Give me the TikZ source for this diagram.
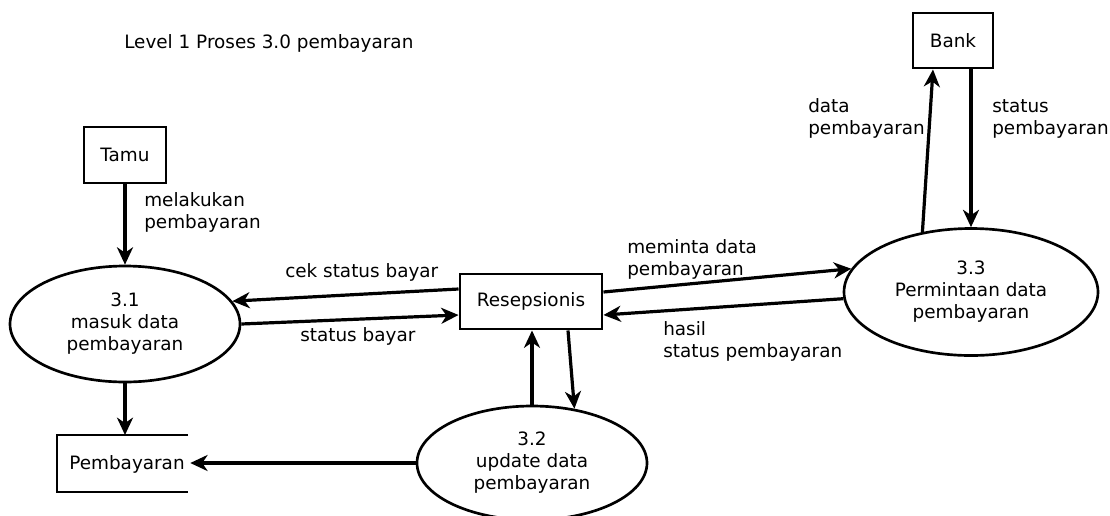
\documentclass[tikz,border=0pt]{standalone}
\usepackage{fontspec}
\setmainfont{DejaVu Sans}
\usetikzlibrary{arrows.meta,calc,shapes.geometric}
\begin{document}
\begin{tikzpicture}[x=0.75pt,y=-0.75pt,
  every node/.style={font=\fontsize{13.8}{16.5}\selectfont},
  entity/.style={draw,line width=2.2pt,rectangle,inner sep=0pt},
  proc/.style={draw,line width=2pt,ellipse,inner sep=0pt,align=center},
  flow/.style={line width=2.4pt,-{Stealth[length=13pt,width=12pt,inset=4pt]}},
  lbl/.style={align=left,anchor=base west,inner sep=0pt},
  storeline/.style={line width=2.2pt}]
\useasboundingbox (0,0) rectangle (1110,515);

% title
\node[lbl] (title) at (124,48) {Level 1 Proses 3.0 pembayaran};

% external entities
\node[entity,minimum width=61.5pt,minimum height=42pt] (tamu) at (125,155) {Tamu};
\node[entity,minimum width=60pt,minimum height=41.25pt] (bank) at (953,40.5) {Bank};
\node[entity,minimum width=106.5pt,minimum height=41.25pt] (resep) at (531,301.5) {Resepsionis};

% processes
\node[proc,minimum width=172.5pt,minimum height=87pt] (p31) at (125,324) {3.1\\masuk data\\pembayaran};
\node[proc,minimum width=172.5pt,minimum height=85.5pt] (p32) at (532,463) {3.2\\update data\\pembayaran};
\node[proc,minimum width=190.5pt,minimum height=95.25pt] (p33) at (971,292) {3.3\\Permintaan data\\pembayaran};

% data store
\node[inner sep=4pt] (store) at (127,464) {Pembayaran};
\draw[storeline] (188,435) -- (57,435) -- (57,492) -- (188,492);
\coordinate (stN) at (125,435);

% flows
\draw[flow] (tamu.south) -- (p31.north);
\draw[flow] (p31.south) -- (stN);
\draw[flow] ($(resep.west)+(0,-12.5)$) -- (p31.12);
\draw[flow] (p31.east) -- ($(resep.west)+(0,13.5)$);
\draw[flow] ($(resep.east)+(0,-9.5)$) -- (p33.169);
\draw[flow] (p33.183) -- ($(resep.east)+(0,13.5)$);
\draw[flow] (p33.129) -- ($(bank.south)+(-20,0)$);
\draw[flow] (bank.south -| p33.north) -- (p33.north);
\draw[flow] (p32.north) -- (p32.north |- resep.south);
\draw[flow] ($(resep.south)+(37,0)$) -- (p32.52);
\draw[flow] (p32.west) -- (p32.west -| store.east);

% flow labels (base = baseline of last line)
\node[lbl] (lmel) at (144,228) {melakukan\\pembayaran};
\node[lbl] (lcek) at (285,277) {cek status bayar};
\node[lbl] (lsb) at (300,341) {status bayar};
\node[lbl] (lmem) at (627,275) {meminta data\\pembayaran};
\node[lbl] (lhas) at (663,357) {hasil\\status pembayaran};
\node[lbl] (ldat) at (808,134) {data\\pembayaran};
\node[lbl] (lsta) at (992,134) {status\\pembayaran};
\end{tikzpicture}
\end{document}
